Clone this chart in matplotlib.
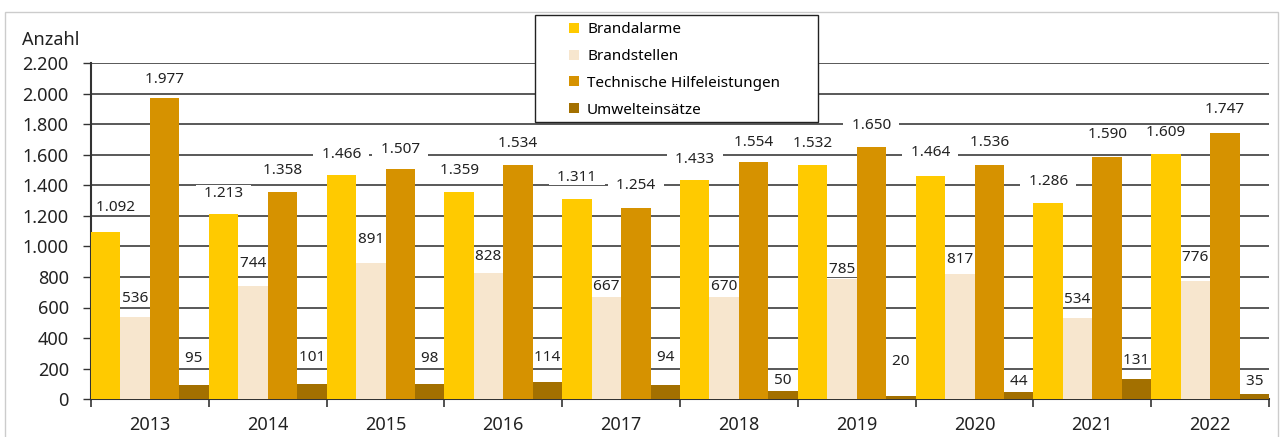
import numpy as np
import matplotlib
matplotlib.use("Agg")
import matplotlib.pyplot as plt
from matplotlib.lines import Line2D
from matplotlib.patches import Rectangle

plt.rcParams['font.family'] = ['Noto Sans', 'DejaVu Sans']

years = ["2013", "2014", "2015", "2016", "2017", "2018", "2019", "2020", "2021", "2022"]
series_names = ["Brandalarme", "Brandstellen", "Technische Hilfeleistungen", "Umwelteinsätze"]
brandalarme = [1092, 1213, 1466, 1359, 1311, 1433, 1532, 1464, 1286, 1609]
brandstellen = [536, 744, 891, 828, 667, 670, 785, 817, 534, 776]
technische = [1977, 1358, 1507, 1534, 1254, 1554, 1650, 1536, 1590, 1747]
umwelt = [95, 101, 98, 114, 94, 50, 20, 44, 131, 35]

colors = ["#FFCA00", "#F7E6CE", "#D69200", "#A37000"]
# label distance above bar top, in pixels (style only)
label_offsets = [
    [25, 21, 21, 21, 22, 21, 22, 23, 21, 21],
    [19, 22, 24, 16, 11, 10, 10, 15, 18, 23],
    [18, 21, 20, 22, 22, 20, 22, 22, 22, 23],
    [26, 26, 26, 24, 27, 11, 34, 11, 19, 12],
]


def fmt(v):
    return f"{v:,}".replace(",", ".")


fig = plt.figure(figsize=(12.82, 4.37), dpi=100)
ax = fig.add_axes([91 / 1282, 38 / 437, 1178 / 1282, 335.5 / 437])

x = np.arange(len(years))
width = 0.25
all_series = [brandalarme, brandstellen, technische, umwelt]

for i, vals in enumerate(all_series):
    pos = x + (i - 1.5) * width
    ax.bar(pos, vals, width, color=colors[i], zorder=3, linewidth=0)
    for j, (p, v, off) in enumerate(zip(pos, vals, label_offsets[i])):
        dx = 10 if (i == 0 and j == 0) else 0  # first label pushed off the axis
        ax.annotate("  " + fmt(v) + "  ", (p, v), xytext=(dx, off), textcoords="offset pixels",
                    ha="center", va="center", fontsize=11, color="#222222", zorder=2,
                    bbox=dict(boxstyle="square,pad=0.02", fc="white", ec="none"))

ax.set_xlim(-0.5, len(years) - 0.5)
ax.set_ylim(0, 2200)
ax.set_yticks(np.arange(0, 2201, 200))
ax.set_yticklabels([fmt(v) for v in range(0, 2201, 200)])
ax.yaxis.grid(True, color="#3c3c3c", linewidth=1.2, zorder=1)
ax.set_axisbelow(True)

ax.set_xticks(x)
ax.set_xticklabels(years)
ax.set_xticks(np.arange(-0.5, len(years)), minor=True)
ax.tick_params(axis="x", which="major", length=0, labelsize=13, pad=12, colors="#222222")
ax.tick_params(axis="x", which="minor", length=6, width=1.2, color="#333333")
ax.tick_params(axis="y", length=6, width=1, labelsize=13, pad=10, color="#333333", labelcolor="#222222")

for s in ["top", "right"]:
    ax.spines[s].set_visible(False)
for s in ["left", "bottom"]:
    ax.spines[s].set_color("#333333")
    ax.spines[s].set_linewidth(1.5)

fig.text(22 / 1282, 1 - 40 / 437, "Anzahl", ha="left", va="center", fontsize=13, color="#222222")

# outer frame
fig.patches.append(Rectangle((5 / 1282, -0.05), 1273 / 1282, 1 - 12 / 437 + 0.05,
                             transform=fig.transFigure, fill=False, ec="#cccccc", lw=1))

# legend box
fig.patches.append(Rectangle((535 / 1282, 1 - 122 / 437), 283 / 1282, 107 / 437,
                             transform=fig.transFigure, fc="white", ec="#222222", lw=1, zorder=5))
handles = [Line2D([], [], marker="s", linestyle="none", markersize=7.5, color=c, markeredgewidth=0)
           for c in colors]
leg = fig.legend(handles, series_names, loc="upper left", bbox_to_anchor=(568 / 1282, 1 - 22 / 437),
                 frameon=False, fontsize=11, handlelength=0.8, handletextpad=0.45,
                 labelspacing=0.78, borderpad=0, borderaxespad=0)
leg.set_zorder(6)

fig.savefig("out.png", dpi=100)
